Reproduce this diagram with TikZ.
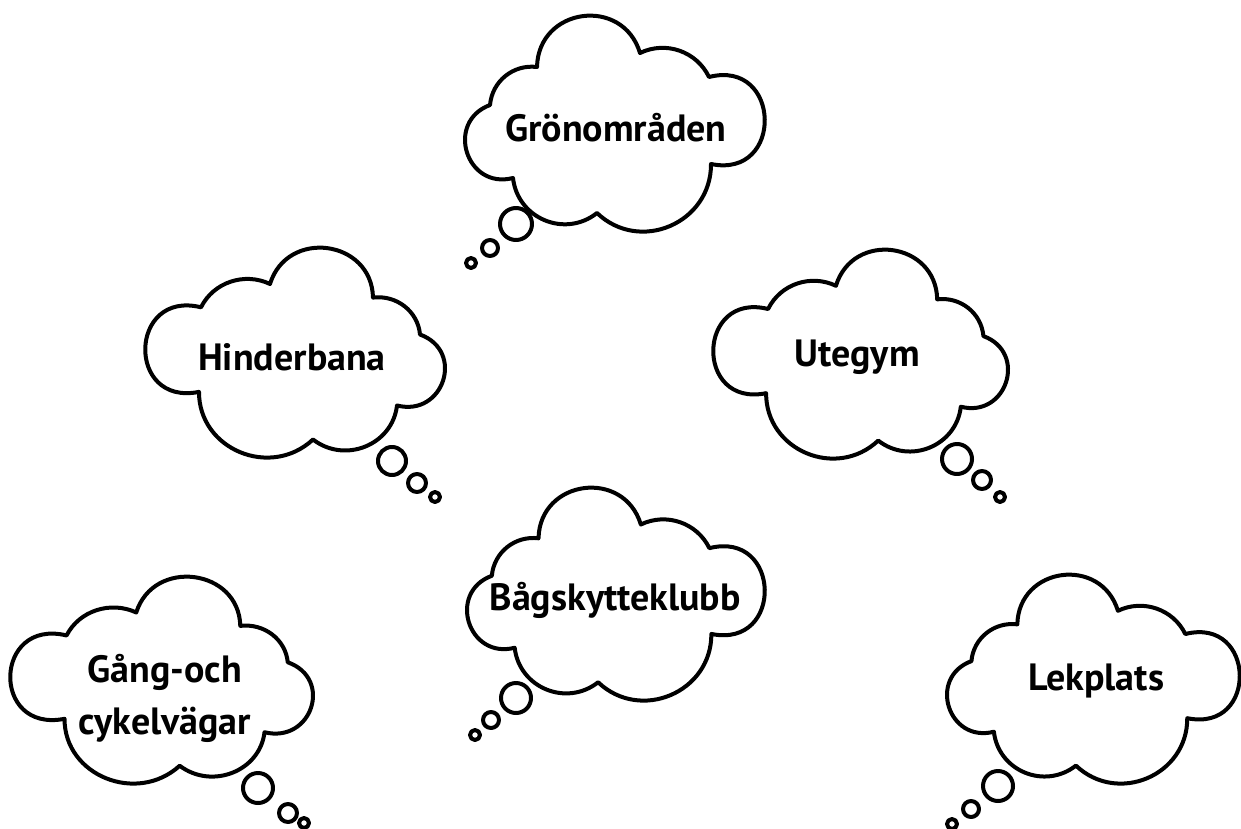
\documentclass[tikz,border=0pt]{standalone}
\usepackage{fontspec}
\setmainfont{PT Sans}
\usepackage{tikz}

% one cloud in a 300 x 215 box; a negative width mirrors it
\newcommand\thoughtcloud[4]{%
  \begin{scope}[shift={(#1,#2)},xscale=#3/300,yscale=#4/215]
    \draw[cloud line] (48,162)
      to[bend left=87,looseness=1.62]  (25,89)
      to[bend left=46,looseness=1.01]  (72,51)
      to[bend left=81,looseness=1.47]  (175,37)
      to[bend left=45,looseness=1]     (244,61)
      to[bend left=103,looseness=2.2]  (246,148)
      to[bend left=67,looseness=1.22]  (132,197)
      to[bend left=61,looseness=1.15]  (48,162) -- cycle;
  \end{scope}}

\begin{document}
\begin{tikzpicture}[x=0.75pt,y=-0.75pt,
  cloud line/.style={line width=3pt,line join=round},
  idea/.style={font=\fontsize{28.5}{39}\selectfont\bfseries,align=center}]
\useasboundingbox (0,0) rectangle (1241,828);

% clouds: left, top, width, height (mirrored ones start at their right edge)
\thoughtcloud{465}{16}{300}{215}
\thoughtcloud{445}{248}{-300}{209}
\thoughtcloud{1008}{250}{-295}{208}
\thoughtcloud{467}{488}{298}{212}
\thoughtcloud{313}{577}{-303}{206}
\thoughtcloud{947}{575}{293}{208}

% bubbles
\foreach \x/\y/\r in {516/224/16, 490/248/8, 471/263/5,
                      392/461/14, 417/483/9, 435/497/5,
                      957/459/15, 982/480/9, 1000/497/5,
                      516/698/15, 491/720/8, 475/735/5,
                      258/788/15, 288/813/9, 304/823/5,
                      998/786/15, 971/809/8, 952/824/5}
  \draw[cloud line] (\x,\y) circle[radius=\r];

\node[idea] (gron)   at (616,128) {Grönområden};
\node[idea] (hinder) at (292,357) {Hinderbana};
\node[idea] (ute)    at (857,357) {Utegym};
\node[idea] (bag)    at (615,600) {Bågskytteklubb};
\node[idea] (gang)   at (165,698) {Gång-och\\cykelvägar};
\node[idea] (lek)    at (1096,681) {Lekplats};
\end{tikzpicture}
\end{document}
